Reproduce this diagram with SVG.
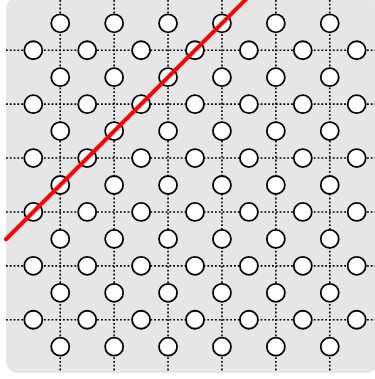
<svg xmlns="http://www.w3.org/2000/svg" width="375" height="379" viewBox="0 0 375 379">
<style>
.bg{fill:#e6e6e6}
.grid line{stroke:#000;stroke-width:1.6;stroke-dasharray:1.8 2}
.node{fill:#fff;stroke:#000;stroke-width:1.8}
.cut{stroke:#ff0000;stroke-width:4;stroke-linecap:round;fill:none}
</style>
<rect class="bg" x="6" y="-3" width="372" height="376" rx="12"/>
<g id="connectors" class="grid">
<line x1="6" y1="50.25" x2="375" y2="50.25"/>
<line x1="6" y1="104.15" x2="375" y2="104.15"/>
<line x1="6" y1="158.05" x2="375" y2="158.05"/>
<line x1="6" y1="211.95" x2="375" y2="211.95"/>
<line x1="6" y1="265.85" x2="375" y2="265.85"/>
<line x1="6" y1="319.75" x2="375" y2="319.75"/>
<line x1="60.25" y1="0" x2="60.25" y2="372"/>
<line x1="114.15" y1="0" x2="114.15" y2="372"/>
<line x1="168.05" y1="0" x2="168.05" y2="372"/>
<line x1="221.95" y1="0" x2="221.95" y2="372"/>
<line x1="275.85" y1="0" x2="275.85" y2="372"/>
<line x1="329.75" y1="0" x2="329.75" y2="372"/>
</g>
<g id="nodes">
<g id="o1-1"><circle class="node" cx="60.25" cy="23.3" r="9"/></g>
<g id="o1-2"><circle class="node" cx="114.15" cy="23.3" r="9"/></g>
<g id="o1-3"><circle class="node" cx="168.05" cy="23.3" r="9"/></g>
<g id="o1-4"><circle class="node" cx="221.95" cy="23.3" r="9"/></g>
<g id="o1-5"><circle class="node" cx="275.85" cy="23.3" r="9"/></g>
<g id="o1-6"><circle class="node" cx="329.75" cy="23.3" r="9"/></g>
<g id="m1-1"><circle class="node" cx="33.3" cy="50.25" r="9"/></g>
<g id="m1-2"><circle class="node" cx="87.2" cy="50.25" r="9"/></g>
<g id="m1-3"><circle class="node" cx="141.1" cy="50.25" r="9"/></g>
<g id="m1-4"><circle class="node" cx="195" cy="50.25" r="9"/></g>
<g id="m1-5"><circle class="node" cx="248.9" cy="50.25" r="9"/></g>
<g id="m1-6"><circle class="node" cx="302.8" cy="50.25" r="9"/></g>
<g id="m1-7"><circle class="node" cx="356.7" cy="50.25" r="9"/></g>
<g id="o2-1"><circle class="node" cx="60.25" cy="77.2" r="9"/></g>
<g id="o2-2"><circle class="node" cx="114.15" cy="77.2" r="9"/></g>
<g id="o2-3"><circle class="node" cx="168.05" cy="77.2" r="9"/></g>
<g id="o2-4"><circle class="node" cx="221.95" cy="77.2" r="9"/></g>
<g id="o2-5"><circle class="node" cx="275.85" cy="77.2" r="9"/></g>
<g id="o2-6"><circle class="node" cx="329.75" cy="77.2" r="9"/></g>
<g id="m2-1"><circle class="node" cx="33.3" cy="104.15" r="9"/></g>
<g id="m2-2"><circle class="node" cx="87.2" cy="104.15" r="9"/></g>
<g id="m2-3"><circle class="node" cx="141.1" cy="104.15" r="9"/></g>
<g id="m2-4"><circle class="node" cx="195" cy="104.15" r="9"/></g>
<g id="m2-5"><circle class="node" cx="248.9" cy="104.15" r="9"/></g>
<g id="m2-6"><circle class="node" cx="302.8" cy="104.15" r="9"/></g>
<g id="m2-7"><circle class="node" cx="356.7" cy="104.15" r="9"/></g>
<g id="o3-1"><circle class="node" cx="60.25" cy="131.1" r="9"/></g>
<g id="o3-2"><circle class="node" cx="114.15" cy="131.1" r="9"/></g>
<g id="o3-3"><circle class="node" cx="168.05" cy="131.1" r="9"/></g>
<g id="o3-4"><circle class="node" cx="221.95" cy="131.1" r="9"/></g>
<g id="o3-5"><circle class="node" cx="275.85" cy="131.1" r="9"/></g>
<g id="o3-6"><circle class="node" cx="329.75" cy="131.1" r="9"/></g>
<g id="m3-1"><circle class="node" cx="33.3" cy="158.05" r="9"/></g>
<g id="m3-2"><circle class="node" cx="87.2" cy="158.05" r="9"/></g>
<g id="m3-3"><circle class="node" cx="141.1" cy="158.05" r="9"/></g>
<g id="m3-4"><circle class="node" cx="195" cy="158.05" r="9"/></g>
<g id="m3-5"><circle class="node" cx="248.9" cy="158.05" r="9"/></g>
<g id="m3-6"><circle class="node" cx="302.8" cy="158.05" r="9"/></g>
<g id="m3-7"><circle class="node" cx="356.7" cy="158.05" r="9"/></g>
<g id="o4-1"><circle class="node" cx="60.25" cy="185" r="9"/></g>
<g id="o4-2"><circle class="node" cx="114.15" cy="185" r="9"/></g>
<g id="o4-3"><circle class="node" cx="168.05" cy="185" r="9"/></g>
<g id="o4-4"><circle class="node" cx="221.95" cy="185" r="9"/></g>
<g id="o4-5"><circle class="node" cx="275.85" cy="185" r="9"/></g>
<g id="o4-6"><circle class="node" cx="329.75" cy="185" r="9"/></g>
<g id="m4-1"><circle class="node" cx="33.3" cy="211.95" r="9"/></g>
<g id="m4-2"><circle class="node" cx="87.2" cy="211.95" r="9"/></g>
<g id="m4-3"><circle class="node" cx="141.1" cy="211.95" r="9"/></g>
<g id="m4-4"><circle class="node" cx="195" cy="211.95" r="9"/></g>
<g id="m4-5"><circle class="node" cx="248.9" cy="211.95" r="9"/></g>
<g id="m4-6"><circle class="node" cx="302.8" cy="211.95" r="9"/></g>
<g id="m4-7"><circle class="node" cx="356.7" cy="211.95" r="9"/></g>
<g id="o5-1"><circle class="node" cx="60.25" cy="238.9" r="9"/></g>
<g id="o5-2"><circle class="node" cx="114.15" cy="238.9" r="9"/></g>
<g id="o5-3"><circle class="node" cx="168.05" cy="238.9" r="9"/></g>
<g id="o5-4"><circle class="node" cx="221.95" cy="238.9" r="9"/></g>
<g id="o5-5"><circle class="node" cx="275.85" cy="238.9" r="9"/></g>
<g id="o5-6"><circle class="node" cx="329.75" cy="238.9" r="9"/></g>
<g id="m5-1"><circle class="node" cx="33.3" cy="265.85" r="9"/></g>
<g id="m5-2"><circle class="node" cx="87.2" cy="265.85" r="9"/></g>
<g id="m5-3"><circle class="node" cx="141.1" cy="265.85" r="9"/></g>
<g id="m5-4"><circle class="node" cx="195" cy="265.85" r="9"/></g>
<g id="m5-5"><circle class="node" cx="248.9" cy="265.85" r="9"/></g>
<g id="m5-6"><circle class="node" cx="302.8" cy="265.85" r="9"/></g>
<g id="m5-7"><circle class="node" cx="356.7" cy="265.85" r="9"/></g>
<g id="o6-1"><circle class="node" cx="60.25" cy="292.8" r="9"/></g>
<g id="o6-2"><circle class="node" cx="114.15" cy="292.8" r="9"/></g>
<g id="o6-3"><circle class="node" cx="168.05" cy="292.8" r="9"/></g>
<g id="o6-4"><circle class="node" cx="221.95" cy="292.8" r="9"/></g>
<g id="o6-5"><circle class="node" cx="275.85" cy="292.8" r="9"/></g>
<g id="o6-6"><circle class="node" cx="329.75" cy="292.8" r="9"/></g>
<g id="m6-1"><circle class="node" cx="33.3" cy="319.75" r="9"/></g>
<g id="m6-2"><circle class="node" cx="87.2" cy="319.75" r="9"/></g>
<g id="m6-3"><circle class="node" cx="141.1" cy="319.75" r="9"/></g>
<g id="m6-4"><circle class="node" cx="195" cy="319.75" r="9"/></g>
<g id="m6-5"><circle class="node" cx="248.9" cy="319.75" r="9"/></g>
<g id="m6-6"><circle class="node" cx="302.8" cy="319.75" r="9"/></g>
<g id="m6-7"><circle class="node" cx="356.7" cy="319.75" r="9"/></g>
<g id="o7-1"><circle class="node" cx="60.25" cy="346.7" r="9"/></g>
<g id="o7-2"><circle class="node" cx="114.15" cy="346.7" r="9"/></g>
<g id="o7-3"><circle class="node" cx="168.05" cy="346.7" r="9"/></g>
<g id="o7-4"><circle class="node" cx="221.95" cy="346.7" r="9"/></g>
<g id="o7-5"><circle class="node" cx="275.85" cy="346.7" r="9"/></g>
<g id="o7-6"><circle class="node" cx="329.75" cy="346.7" r="9"/></g>
</g>
<g id="cut-line">
<line class="cut" x1="6" y1="239.25" x2="251" y2="-5.75"/>
</g>
</svg>
